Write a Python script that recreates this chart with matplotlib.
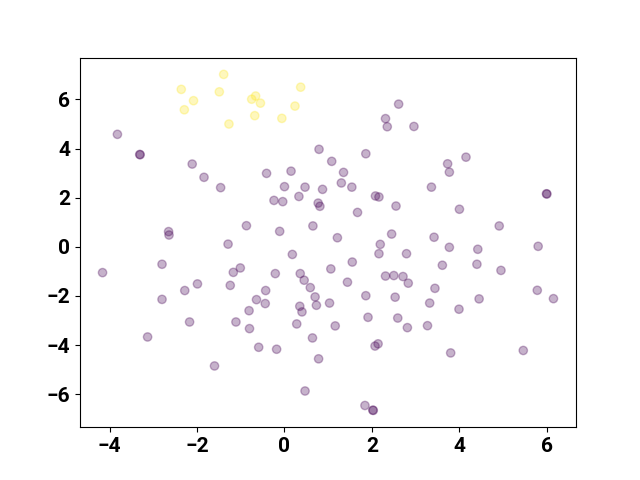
import numpy as np
import matplotlib
matplotlib.use('Agg')
import matplotlib.pyplot as plt

# class 1 (yellow)
x1 = [-2.36, -1.39, -1.49, -2.08, -2.29, -1.27, -0.75, -0.66, -0.55, -0.68, -0.06, 0.24, 0.37]
y1 = [6.41, 7.02, 6.31, 5.95, 5.58, 5.00, 6.01, 6.14, 5.85, 5.34, 5.23, 5.73, 6.50]

# class 0 (purple)
x0 = [-3.82, -3.31, -3.30, -2.11, -1.84, -1.46, -0.87, -2.65, -2.64, -1.29,
      2.61, 2.31, 2.35, 2.96, 0.79, 1.86, 1.08, -0.41, 0.15, 1.35,
      0.00, 0.47, 0.87, 1.30, 1.54, 2.08, 2.16, -0.24, -0.04, 0.33,
      0.77, 0.81, 2.55, 1.67, -0.11, 0.65, 1.21, 2.45, 2.19, 4.15,
      3.73, 3.77, 3.36, 5.99, 6.00, 4.00, 4.91, 3.42, 3.77, 4.42,
      5.80, -2.80, -4.16, -1.17, -1.01, -1.99, -2.28, -1.24, -2.80, -0.81,
      -2.17, -1.11, -0.80, -3.13, -1.60, 2.16, 2.79, 0.18, -0.21, 0.36,
      0.45, 0.59, 1.06, 1.55, 1.44, 2.31, 2.50, 2.71, 2.83, -0.43,
      -0.64, -0.44, 0.70, 0.73, 0.35, 0.40, 1.03, 1.86, 2.53, 1.91,
      2.59, 2.81, 0.28, 1.16, -0.59, -0.18, 0.64, 2.07, 2.14, 0.78,
      0.47, 1.84, 2.02, 2.03, 3.61, 4.40, 4.95, 3.44, 3.32, 3.99,
      4.45, 5.78, 6.15, 3.27, 3.80, 5.46]
y0 = [4.58, 3.76, 3.75, 3.37, 2.83, 2.41, 0.86, 0.62, 0.48, 0.11,
      5.81, 5.22, 4.89, 4.90, 3.97, 3.79, 3.48, 2.99, 3.08, 3.03,
      2.45, 2.43, 2.34, 2.60, 2.43, 2.07, 2.03, 1.89, 1.84, 2.05,
      1.78, 1.65, 1.66, 1.40, 0.63, 0.85, 0.37, 0.52, 0.10, 3.65,
      3.38, 3.04, 2.43, 2.16, 2.15, 1.53, 0.85, 0.39, -0.02, -0.10,
      0.02, -0.71, -1.05, -1.04, -0.86, -1.51, -1.78, -1.57, -2.14, -2.60,
      -3.06, -3.06, -3.33, -3.67, -4.85, -0.28, -0.28, -0.31, -1.09, -1.09,
      -1.36, -1.66, -0.90, -0.62, -1.44, -1.19, -1.17, -1.21, -1.48, -1.78,
      -2.15, -2.31, -2.04, -2.38, -2.42, -2.65, -2.29, -1.99, -2.05, -2.87,
      -2.90, -3.29, -3.14, -3.22, -4.09, -4.17, -3.71, -4.04, -3.95, -4.56,
      -5.87, -6.46, -6.65, -6.66, -0.75, -0.71, -0.96, -1.69, -2.29, -2.54,
      -2.12, -1.77, -2.11, -3.21, -4.32, -4.22]

X = np.array(x0 + x1)
Y = np.array(y0 + y1)
labels = np.array([0] * len(x0) + [1] * len(x1))

plt.rcParams['font.family'] = ['Roboto', 'DejaVu Sans']

fig, ax = plt.subplots(figsize=(6.4, 4.8), dpi=100)
ax.scatter(X, Y, c=labels, cmap='viridis', alpha=0.3)
for lab in ax.get_xticklabels() + ax.get_yticklabels():
    lab.set_fontweight('bold')
    lab.set_fontsize(15)
fig.savefig('out.png')
